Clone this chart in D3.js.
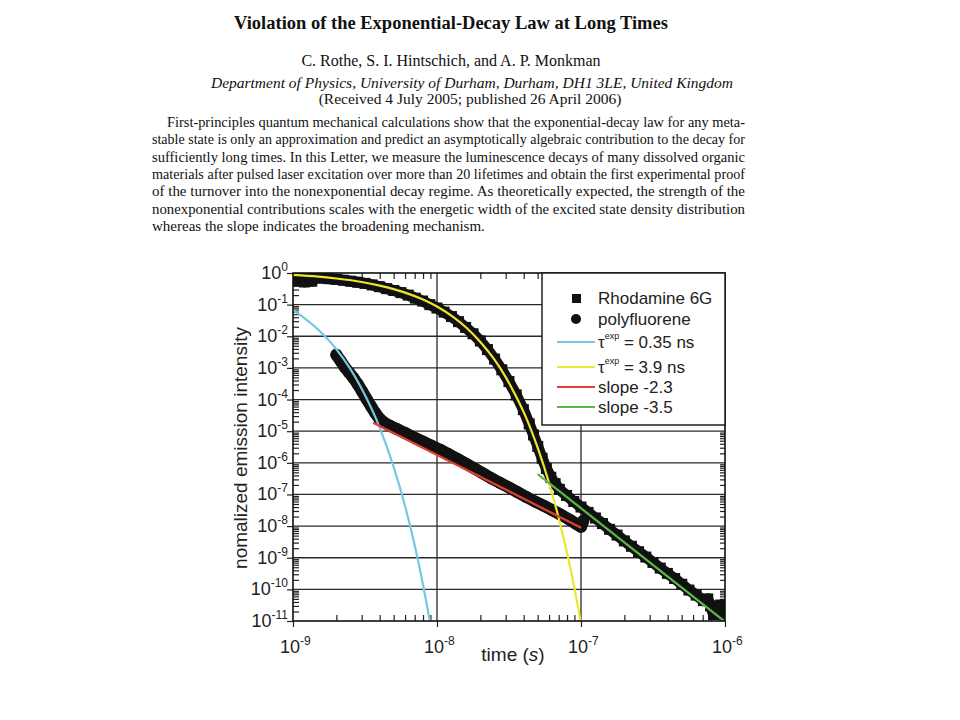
<!DOCTYPE html>
<html><head><meta charset="utf-8">
<script src="https://cdn.jsdelivr.net/npm/d3@7"></script>
<style>body{margin:0;background:#fff;} svg{display:block;}</style>
</head><body>
<svg id="c" width="960" height="720"></svg>
<script>
// ---------- data ----------
const xTicks = [1e-9, 1e-8, 1e-7, 1e-6];
const xTickExp = ["-9", "-8", "-7", "-6"];
const yTicks = [1, 1e-1, 1e-2, 1e-3, 1e-4, 1e-5, 1e-6, 1e-7, 1e-8, 1e-9, 1e-10, 1e-11];
const yTickExp = ["0", "-1", "-2", "-3", "-4", "-5", "-6", "-7", "-8", "-9", "-10", "-11"];

// Rhodamine 6G (black squares): time (s), normalized intensity
const rhodT = [1.00e-9,1.05e-9,1.12e-9,1.20e-9,1.26e-9,1.35e-9,1.41e-9,1.58e-9,1.78e-9,2.00e-9,2.24e-9,2.51e-9,2.82e-9,3.16e-9,3.55e-9,3.98e-9,4.47e-9,5.01e-9,5.62e-9,6.31e-9,7.08e-9,7.94e-9,8.91e-9,1.00e-8,1.12e-8,1.26e-8,1.41e-8,1.58e-8,1.78e-8,2.00e-8,2.24e-8,2.51e-8,2.82e-8,3.16e-8,3.55e-8,3.98e-8,4.37e-8,4.68e-8,5.01e-8,5.37e-8,5.75e-8,6.17e-8,6.61e-8,7.08e-8,7.94e-8,8.91e-8,1.00e-7,1.12e-7,1.26e-7,1.41e-7,1.58e-7,1.78e-7,2.00e-7,2.24e-7,2.51e-7,2.82e-7,3.16e-7,3.55e-7,3.98e-7,4.47e-7,5.01e-7,5.62e-7,6.31e-7,7.08e-7,7.59e-7,7.94e-7,8.32e-7,8.91e-7,9.33e-7,1.00e-6];
const rhodI = [0.79,0.56,0.76,0.52,0.76,0.55,0.71,0.69,0.66,0.63,0.59,0.55,0.51,0.47,0.42,0.37,0.32,0.28,0.24,0.20,0.16,0.13,0.10,0.078,0.058,0.042,0.029,0.019,0.012,7.1e-3,3.8e-3,1.9e-3,8.7e-4,3.7e-4,1.4e-4,4.8e-5,1.7e-5,7.6e-6,3.3e-6,1.4e-6,6.6e-7,3.5e-7,2.2e-7,1.45e-7,9.3e-8,6.0e-8,4.0e-8,2.7e-8,1.8e-8,1.2e-8,7.9e-9,5.2e-9,3.4e-9,2.3e-9,1.55e-9,1.05e-9,7.1e-10,4.7e-10,3.2e-10,2.2e-10,1.45e-10,9.5e-11,6.6e-11,4.4e-11,5.0e-11,3.0e-11,1.6e-11,2.0e-11,3.2e-11,1.2e-11];

// polyfluorene (black circles)
const polyT = [2.00e-9,2.14e-9,2.29e-9,2.45e-9,2.63e-9,2.82e-9,3.02e-9,3.24e-9,3.47e-9,3.72e-9,3.98e-9,4.27e-9,4.68e-9,5.25e-9,6.03e-9,6.92e-9,7.94e-9,9.12e-9,1.05e-8,1.20e-8,1.38e-8,1.58e-8,1.82e-8,2.09e-8,2.40e-8,2.75e-8,3.16e-8,3.63e-8,4.17e-8,4.79e-8,5.50e-8,6.31e-8,7.24e-8,8.32e-8,9.33e-8,1.00e-7,1.02e-7,1.035e-7];
const polyI = [2.6e-3,1.66e-3,1.05e-3,7.2e-4,4.8e-4,3.0e-4,1.8e-4,1.05e-4,6.3e-5,3.8e-5,2.5e-5,1.9e-5,1.5e-5,1.17e-5,8.7e-6,6.3e-6,4.7e-6,3.5e-6,2.6e-6,1.9e-6,1.35e-6,9.5e-7,6.6e-7,4.6e-7,3.2e-7,2.3e-7,1.66e-7,1.17e-7,8.3e-8,6.0e-8,4.4e-8,3.2e-8,2.3e-8,1.6e-8,1.15e-8,9.5e-9,1.2e-8,1.45e-8];

// exponential fit, tau = 0.35 ns (cyan)
const fastT = [1.0e-9,1.5e-9,2.0e-9,2.5e-9,3.0e-9,4.0e-9,5.0e-9,6.0e-9,7.0e-9,8.0e-9,9.0e-9];
const fastI = [6.8e-2,1.6e-2,3.9e-3,9.3e-4,2.2e-4,1.3e-5,7.4e-7,4.3e-8,2.5e-9,1.4e-10,8.1e-12];

// exponential fit, tau = 3.9 ns (yellow)
const slowT = [1.0e-9,1.5e-9,2.0e-9,3.0e-9,4.0e-9,5.0e-9,6.0e-9,8.0e-9,1.0e-8,1.3e-8,1.6e-8,2.0e-8,2.5e-8,3.0e-8,3.5e-8,4.0e-8,5.0e-8,6.0e-8,7.0e-8,8.0e-8,9.0e-8,1.0e-7];
const slowI = [0.87,0.77,0.67,0.52,0.40,0.31,0.24,0.145,0.087,0.040,0.0186,6.6e-3,1.85e-3,5.1e-4,1.4e-4,4.0e-5,3.0e-6,2.3e-7,1.8e-8,1.4e-9,1.1e-10,8.3e-12];

// power-law fits
const s23T = [3.6e-9, 1.0e-7];
const s23I = [1.85e-5, 8.9e-9];
const s35T = [5.0e-8, 1.0e-6];
const s35I = [4.4e-7, 9.5e-12];

const legendLabels = ["Rhodamine 6G", "polyfluorene", "= 0.35 ns", "= 3.9 ns", "slope -2.3", "slope -3.5"];

// ---------- layout ----------
const svg = d3.select("#c");
const L = 293, R = 725, T = 273, B = 621;
const x = d3.scaleLog().domain([1e-9, 1e-6]).range([L, R]);
const y = d3.scaleLog().domain([1e-11, 1]).range([B, T]);
const SANS = "'Liberation Sans', Arial, Helvetica, sans-serif";
const SERIF = "'Liberation Serif', 'Times New Roman', serif";
const COL = {cyan: "#74c9de", yellow: "#efe52c", red: "#e0412e", green: "#5bb848"};

// ---------- header text ----------
const head = svg.append("g").attr("fill", "#111").attr("font-family", SERIF);
head.append("text").attr("x", 451).attr("y", 29).attr("text-anchor", "middle")
  .attr("font-size", 18.5).attr("font-weight", "bold")
  .text("Violation of the Exponential-Decay Law at Long Times");
head.append("text").attr("x", 451).attr("y", 66).attr("text-anchor", "middle")
  .attr("font-size", 16).text("C. Rothe, S. I. Hintschich, and A. P. Monkman");
head.append("text").attr("x", 472).attr("y", 88).attr("text-anchor", "middle")
  .attr("font-size", 15.5).attr("font-style", "italic")
  .text("Department of Physics, University of Durham, Durham, DH1 3LE, United Kingdom");
head.append("text").attr("x", 470).attr("y", 104).attr("text-anchor", "middle")
  .attr("font-size", 15.5).text("(Received 4 July 2005; published 26 April 2006)");

const abstractLines = [
  "First-principles quantum mechanical calculations show that the exponential-decay law for any meta-",
  "stable state is only an approximation and predict an asymptotically algebraic contribution to the decay for",
  "sufficiently long times. In this Letter, we measure the luminescence decays of many dissolved organic",
  "materials after pulsed laser excitation over more than 20 lifetimes and obtain the first experimental proof",
  "of the turnover into the nonexponential decay regime. As theoretically expected, the strength of the",
  "nonexponential contributions scales with the energetic width of the excited state density distribution",
  "whereas the slope indicates the broadening mechanism."
];
abstractLines.forEach((s, i) => {
  const t = head.append("text").attr("x", i === 0 ? 167 : 152).attr("y", 127 + i * 17.35)
    .attr("font-size", 15).text(s);
  if (i < 6) t.attr("textLength", i === 0 ? 578 : 593).attr("lengthAdjust", "spacingAndGlyphs");
});

// ---------- grid ----------
const grid = svg.append("g").attr("stroke", "#2a2a2a").attr("stroke-width", 1.3);
grid.selectAll("line.h").data(yTicks.slice(1, -1)).join("line")
  .attr("x1", L).attr("x2", R).attr("y1", d => y(d)).attr("y2", d => y(d));
grid.selectAll("line.v").data(xTicks.slice(1, -1)).join("line")
  .attr("y1", T).attr("y2", B).attr("x1", d => x(d)).attr("x2", d => x(d));

// ---------- ticks via d3 axes ----------
const xMinor = x.ticks().filter(d => !xTicks.some(m => Math.abs(m - d) / m < 1e-6));
const yMinor = y.ticks(40).filter(d => !yTicks.some(m => Math.abs(m - d) / m < 1e-6));
function styleAxis(g) {
  g.select(".domain").remove();
  g.selectAll("line").attr("stroke", "#222").attr("stroke-width", 1.2);
  g.selectAll("text").remove();
}
svg.append("g").attr("transform", `translate(0,${B})`)
  .call(d3.axisBottom(x).tickValues(xTicks).tickSize(6).tickFormat("")).call(styleAxis);
svg.append("g").attr("transform", `translate(0,${B})`)
  .call(d3.axisBottom(x).tickValues(xMinor).tickSize(-6).tickFormat("")).call(styleAxis);
svg.append("g").attr("transform", `translate(0,${T})`)
  .call(d3.axisTop(x).tickValues(xMinor).tickSize(-6).tickFormat("")).call(styleAxis);
svg.append("g").attr("transform", `translate(${L},0)`)
  .call(d3.axisLeft(y).tickValues(yTicks).tickSize(6).tickFormat("")).call(styleAxis);
svg.append("g").attr("transform", `translate(${L},0)`)
  .call(d3.axisLeft(y).tickValues(yMinor).tickSize(-6).tickFormat("")).call(styleAxis);
svg.append("g").attr("transform", `translate(${R},0)`)
  .call(d3.axisRight(y).tickValues(yMinor).tickSize(-5).tickFormat("")).call(styleAxis);

// ---------- data ----------
svg.append("defs").append("clipPath").attr("id", "plot")
  .append("rect").attr("x", L).attr("y", T).attr("width", R - L).attr("height", B - T);
const plot = svg.append("g").attr("clip-path", "url(#plot)");

const rhod = rhodT.map((t, i) => [t, rhodI[i]]);
const poly = polyT.map((t, i) => [t, polyI[i]]);
const line = d3.line().x(d => x(d[0])).y(d => y(d[1]));
const smooth = d3.line().x(d => x(d[0])).y(d => y(d[1])).curve(d3.curveMonotoneX);

plot.append("path").datum(rhod).attr("d", line).attr("fill", "none")
  .attr("stroke", "#111").attr("stroke-width", 11).attr("stroke-linejoin", "round").attr("stroke-linecap", "square");
plot.selectAll("rect.rh").data(rhod).join("rect")
  .attr("x", d => x(d[0]) - 5.5).attr("y", d => y(d[1]) - 5.5).attr("width", 11).attr("height", 11).attr("fill", "#111");

plot.append("path").datum(poly).attr("d", line).attr("fill", "none")
  .attr("stroke", "#111").attr("stroke-width", 12).attr("stroke-linejoin", "round").attr("stroke-linecap", "round");
plot.selectAll("circle.pf").data(poly).join("circle")
  .attr("cx", d => x(d[0])).attr("cy", d => y(d[1])).attr("r", 6).attr("fill", "#111");

const fits = [
  {T: fastT, I: fastI, c: COL.cyan, s: true},
  {T: slowT, I: slowI, c: COL.yellow, s: true},
  {T: s23T, I: s23I, c: COL.red, s: false},
  {T: s35T, I: s35I, c: COL.green, s: false}
];
fits.forEach(f => {
  plot.append("path").datum(f.T.map((t, i) => [t, f.I[i]]))
    .attr("d", f.s ? smooth : line).attr("fill", "none")
    .attr("stroke", f.c).attr("stroke-width", 2.2);
});

// ---------- frame ----------
svg.append("rect").attr("x", L).attr("y", T).attr("width", R - L).attr("height", B - T)
  .attr("fill", "none").attr("stroke", "#111").attr("stroke-width", 1.6);

// ---------- tick labels ----------
const lab = svg.append("g").attr("font-family", SANS).attr("fill", "#222");
yTicks.forEach((v, i) => {
  const t = lab.append("text").attr("x", 288).attr("y", y(v) + 6).attr("text-anchor", "end").attr("font-size", 18);
  t.append("tspan").text("10");
  t.append("tspan").attr("font-size", 12).attr("dy", -8).text(yTickExp[i]);
});
xTicks.forEach((v, i) => {
  const t = lab.append("text").attr("x", x(v) - 13).attr("y", 653).attr("font-size", 18);
  t.append("tspan").text("10");
  t.append("tspan").attr("font-size", 12).attr("dy", -8).text(xTickExp[i]);
});
lab.append("text").attr("transform", "translate(247,448) rotate(-90)").attr("text-anchor", "middle")
  .attr("font-size", 19).text("nomalized emission intensity");
const xl = lab.append("text").attr("x", 513).attr("y", 661).attr("text-anchor", "middle").attr("font-size", 19);
xl.append("tspan").text("time (");
xl.append("tspan").attr("font-style", "italic").text("s");
xl.append("tspan").text(")");

// ---------- legend ----------
const lg = svg.append("g").attr("font-family", SANS).attr("fill", "#222");
lg.append("rect").attr("x", 542).attr("y", T).attr("width", R - 542).attr("height", 152)
  .attr("fill", "#fff").attr("stroke", "#111").attr("stroke-width", 1.4);
lg.append("rect").attr("x", 572).attr("y", 294).attr("width", 9).attr("height", 9).attr("fill", "#111");
lg.append("circle").attr("cx", 576).attr("cy", 319).attr("r", 5).attr("fill", "#111");
const rowsY = [298, 319, 342, 367, 387, 407];
const lineCols = [null, null, COL.cyan, COL.yellow, COL.red, COL.green];
rowsY.forEach((yy, i) => {
  if (lineCols[i]) lg.append("line").attr("x1", 557).attr("x2", 595).attr("y1", yy).attr("y2", yy)
    .attr("stroke", lineCols[i]).attr("stroke-width", 2);
  const t = lg.append("text").attr("x", 598).attr("y", yy + 6).attr("font-size", 17);
  if (i === 2 || i === 3) {
    t.append("tspan").text("τ");
    t.append("tspan").attr("font-size", 9).attr("dy", -9).text("exp");
    t.append("tspan").attr("dy", 9).text(" " + legendLabels[i]);
  } else {
    t.text(legendLabels[i]);
  }
});
</script>
</body></html>
